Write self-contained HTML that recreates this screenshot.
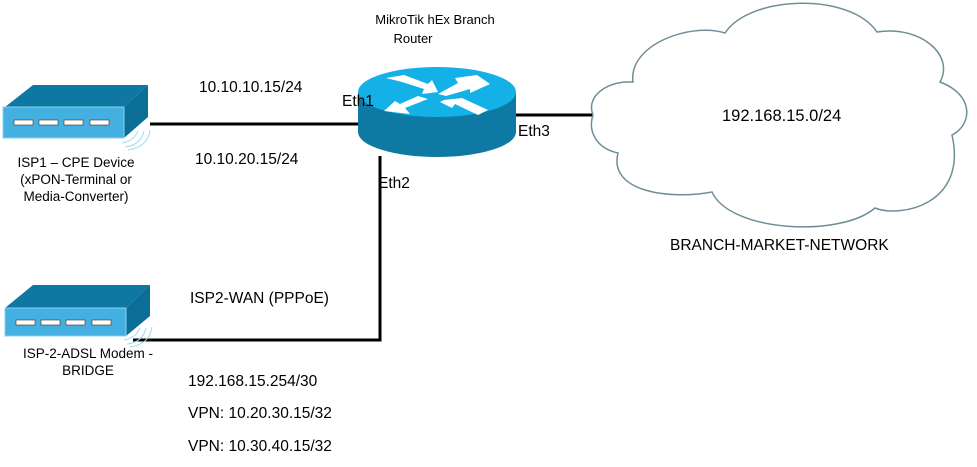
<!DOCTYPE html>
<html><head><meta charset="utf-8"><style>
body{margin:0;background:#fff;width:977px;height:467px;overflow:hidden}
svg{display:block}
text{font-family:"Liberation Sans",sans-serif;fill:#000}
</style></head><body>
<svg width="977" height="467" viewBox="0 0 977 467">
<g stroke="#000" stroke-width="3" fill="none">
<line x1="150" y1="124" x2="362" y2="124"/>
<line x1="514" y1="115" x2="595" y2="115"/>
<polyline points="133,340 380,340 380,156"/>
</g>
<path d="M593,115 C585,95 610,80 633,82 C628,45 690,22 725,33 C750,-5 850,-8 877,32 C920,25 955,55 940,82 C975,95 972,125 952,135 C968,205 900,218 875,208 C840,238 730,232 712,192 C670,200 608,192 618,153 C595,148 588,130 593,115 Z" fill="#fff" stroke="#6e8f95" stroke-width="1.5"/>
<g>
<polygon points="5,107 33,85 148,85 124,107" fill="#0e77a2"/>
<polygon points="124,107 148,85 148,117 124,138" fill="#0b6e96"/>
<rect x="3" y="107" width="121" height="31" fill="#44b0e2" stroke="#8ad0f0" stroke-width="1"/>
<g fill="#fff" stroke="#333" stroke-width="0.6"><rect x="14" y="120" width="19" height="5"/><rect x="39" y="120" width="19" height="5"/><rect x="64" y="120" width="19" height="5"/><rect x="90" y="120" width="19" height="5"/></g>
<g stroke="#9fd8f2" fill="none" stroke-width="1"><path d="M122,143 q12,-2 16,-12"/><path d="M125,147 q16,-2 19,-16"/><path d="M128,150 q20,-3 22,-20"/></g>
</g>
<g>
<polygon points="5,308 33,285 150,285 126,308" fill="#0e77a2"/>
<polygon points="126,308 150,285 150,316 126,336" fill="#0b6e96"/>
<rect x="5" y="308" width="121" height="28" fill="#44b0e2" stroke="#8ad0f0" stroke-width="1"/>
<g fill="#fff" stroke="#333" stroke-width="0.6"><rect x="16" y="320" width="19" height="5"/><rect x="41" y="320" width="19" height="5"/><rect x="66" y="320" width="19" height="5"/><rect x="92" y="320" width="19" height="5"/></g>
<g stroke="#9fd8f2" fill="none" stroke-width="1"><path d="M124,340 q12,-2 16,-12"/><path d="M127,344 q16,-2 19,-16"/><path d="M130,347 q20,-3 22,-20"/></g>
</g>
<g>
<path d="M358,92 L358,132 A79,25 0 0 0 516,132 L516,92 Z" fill="#0e7aa3"/>
<ellipse cx="437" cy="92" rx="79" ry="25" fill="#14b1e7"/>
<g fill="#fff">
<polygon points="386,78 404,75 428,84 432,80 438,92 422,94 424,89 402,82"/>
<polygon points="455,78 477,75 490,84 470,93 470,89 446,96 438,94 458,83"/>
<polygon points="418,96 428,99 405,108 410,114 384,111 395,101 400,104"/>
<polygon points="444,100 462,98 488,110 478,115 455,104 452,108 440,102"/>
</g>
</g>
<g>
<text x="435" y="24" text-anchor="middle" font-size="13">MikroTik hEx Branch</text>
<text x="413" y="43" text-anchor="middle" font-size="13">Router</text>
<text x="199" y="92" font-size="15.5">10.10.10.15/24</text>
<text x="342" y="106" font-size="15.5">Eth1</text>
<text x="195" y="164" font-size="15.5">10.10.20.15/24</text>
<text x="518" y="136" font-size="15.5">Eth3</text>
<text x="378" y="188" font-size="15.5">Eth2</text>
<text x="722" y="121" font-size="16.5">192.168.15.0/24</text>
<text x="670" y="250" font-size="15.5">BRANCH-MARKET-NETWORK</text>
<text x="76" y="167" text-anchor="middle" font-size="13.5">ISP1 – CPE Device</text>
<text x="76" y="184" text-anchor="middle" font-size="13.5">(xPON-Terminal or</text>
<text x="76" y="201" text-anchor="middle" font-size="13.5">Media-Converter)</text>
<text x="190" y="303" font-size="15.5">ISP2-WAN (PPPoE)</text>
<text x="88" y="358" text-anchor="middle" font-size="13.5">ISP-2-ADSL Modem -</text>
<text x="88" y="375" text-anchor="middle" font-size="13.5">BRIDGE</text>
<text x="188" y="386" font-size="15.5">192.168.15.254/30</text>
<text x="188" y="418" font-size="15.5">VPN: 10.20.30.15/32</text>
<text x="188" y="451" font-size="15.5">VPN: 10.30.40.15/32</text>
</g>
</svg>
</body></html>
